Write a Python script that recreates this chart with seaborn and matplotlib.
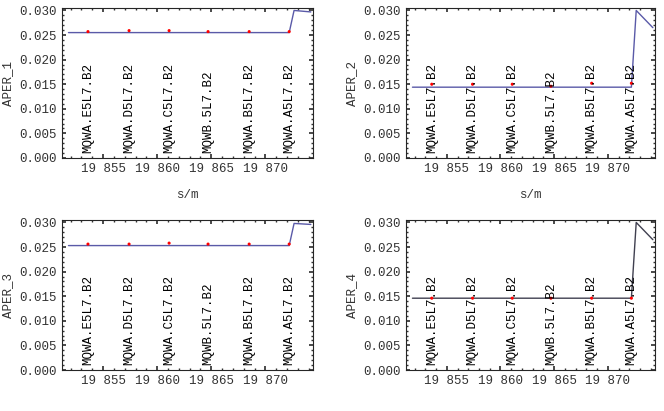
import matplotlib
matplotlib.use("Agg")
import matplotlib.pyplot as plt
import seaborn as sns

sns.set_theme(style="ticks")
plt.rcParams['font.family'] = ['Liberation Mono', 'DejaVu Sans Mono']

names = ["MQWA.E5L7.B2", "MQWA.D5L7.B2", "MQWA.C5L7.B2", "MQWB.5L7.B2", "MQWA.B5L7.B2", "MQWA.A5L7.B2"]
elem_s = [19853.6, 19857.4, 19861.1, 19864.7, 19868.5, 19872.2]
line_s = [19851.8, 19872.2, 19872.65, 19874.2]
aper1_line = [0.0255, 0.0255, 0.0300, 0.0297]
aper2_line = [0.0144, 0.0144, 0.0300, 0.0265]
aper3_line = [0.0253, 0.0253, 0.0298, 0.0296]
aper4_line = [0.0146, 0.0146, 0.0300, 0.0265]
aper1_pts = [0.0257, 0.0259, 0.0259, 0.0257, 0.0257, 0.0257]
aper2_pts = [0.0150, 0.0150, 0.0150, 0.0146, 0.0152, 0.0152]
aper3_pts = [0.0256, 0.0256, 0.0258, 0.0256, 0.0256, 0.0256]
aper4_pts = [0.0146, 0.0146, 0.0146, 0.0146, 0.0146, 0.0146]

fig = plt.figure(figsize=(6.64, 4.11), dpi=100)
W, H = 664, 411
boxes = [(62, 8, 313, 158), (406, 8, 655, 158), (62, 220, 313, 370), (406, 220, 655, 370)]
panels = [("APER_1", aper1_line, aper1_pts, "#5a5aa8", True),
          ("APER_2", aper2_line, aper2_pts, "#5a5aa8", True),
          ("APER_3", aper3_line, aper3_pts, "#5a5aa8", False),
          ("APER_4", aper4_line, aper4_pts, "#404050", False)]
for (x0, y0, x1, y1), (lab, ln, pts, col, xl) in zip(boxes, panels):
    ax = fig.add_axes([x0 / W, 1 - y1 / H, (x1 - x0) / W, (y1 - y0) / H])
    sns.lineplot(x=line_s, y=ln, ax=ax, color=col, lw=1)
    sns.scatterplot(x=elem_s, y=pts, ax=ax, color="red", s=5, marker="o", edgecolor="none", zorder=3)
    for s, n in zip(elem_s, names):
        ax.text(s, 0.0010, n, rotation=90, ha="center", va="bottom", fontsize=9, color="black")
    ax.set_xlim(19851.2, 19874.4)
    ax.set_ylim(0, 0.0305)
    ax.set_xticks([19855, 19860, 19865, 19870])
    ax.set_xticklabels(["19 855", "19 860", "19 865", "19 870"])
    ax.set_yticks([0, 0.005, 0.01, 0.015, 0.02, 0.025, 0.03])
    ax.set_yticklabels(["0.000", "0.005", "0.010", "0.015", "0.020", "0.025", "0.030"])
    ax.minorticks_on()
    ax.tick_params(which="both", direction="in", top=True, right=True, labelsize=9, colors="#333333", length=3)
    ax.tick_params(which="minor", length=1.5)
    ax.set_ylabel(lab, fontsize=9, color="#333333")
    if xl:
        ax.set_xlabel("s/m", fontsize=9, color="#333333", labelpad=10)
    for sp in ax.spines.values():
        sp.set_linewidth(0.8)
fig.savefig("out.png", dpi=100)
